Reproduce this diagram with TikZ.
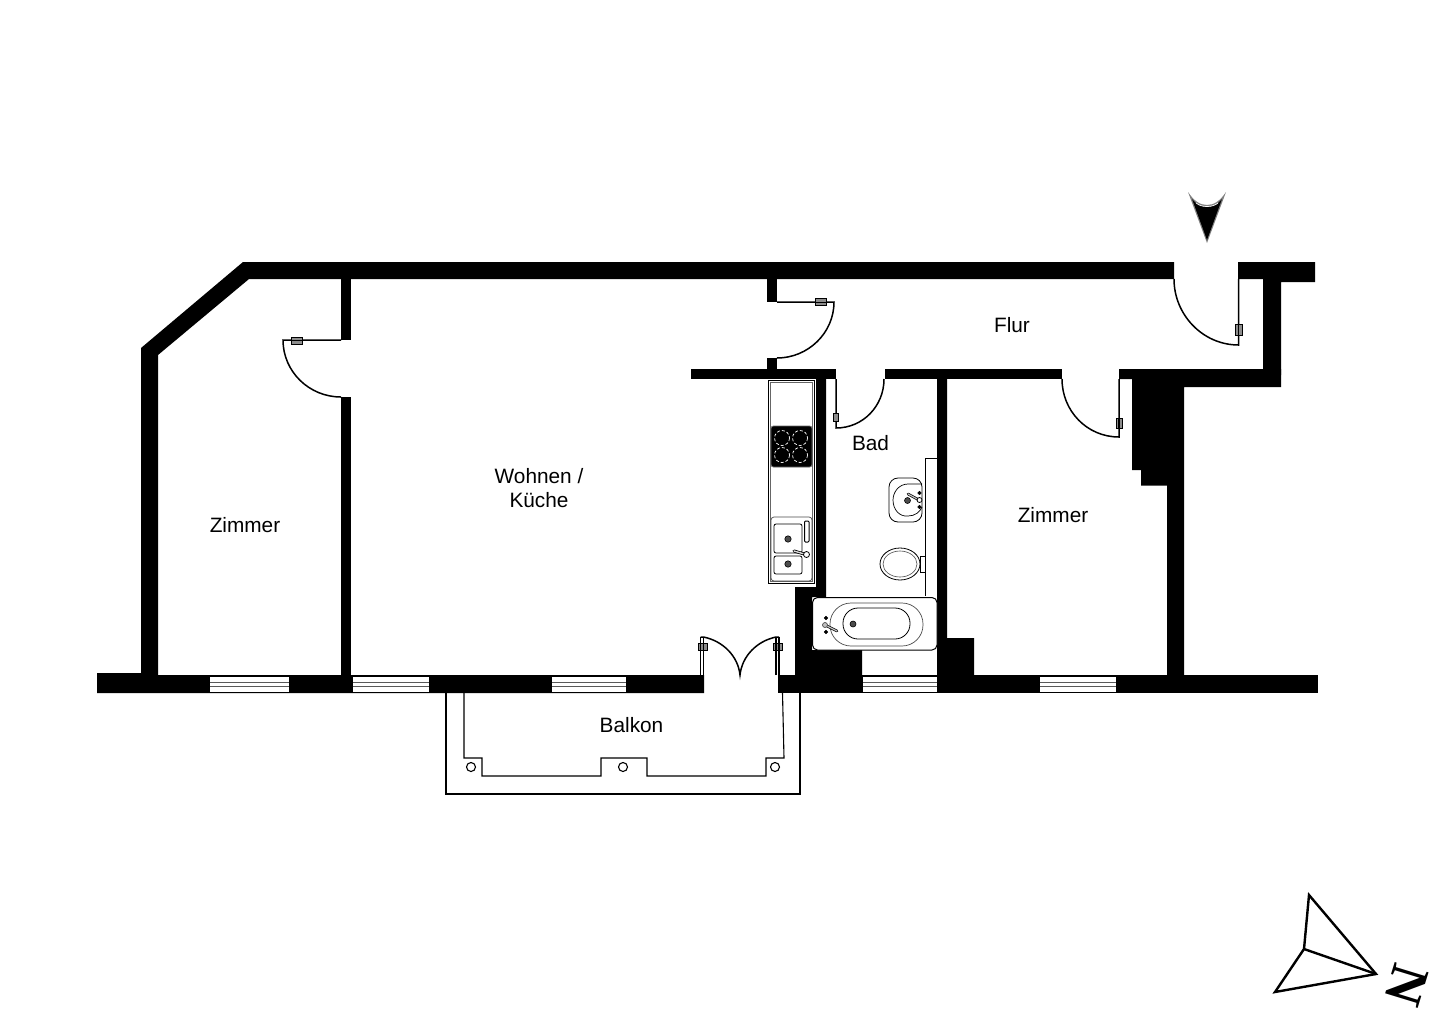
\documentclass[tikz,border=0pt]{standalone}
\usepackage{fontspec}
\setmainfont{Liberation Sans}
\newfontfamily\northfont{Liberation Serif}
\tikzset{
  wall/.style={fill=black,draw=none},
  thin line/.style={draw=black,line width=1.1pt},
  door/.style={draw=black,line width=1.5pt},
  hinge/.style={draw=black,fill=black!45,line width=0.8pt},
  fixture/.style={draw=black,fill=white,line width=0.8pt},
  label/.style={font=\fontsize{20.8}{24}\selectfont,inner sep=0pt,align=center},
  drainmark/.style={draw=black,fill=black!70,line width=0.6pt},
  northline/.style={draw=black,line width=2.4pt,line join=miter}
}
\newcommand{\planwindow}[2]{%
  \fill[white] (#1,675.5) rectangle (#2,692.5);
  \draw[black!65,line width=1pt] (#1,682) -- (#2,682) (#1,686.5) -- (#2,686.5);
  \draw[black,line width=0.7pt] (#1,676) -- (#2,676) (#1,692.5) -- (#2,692.5);
}
\begin{document}
\begin{tikzpicture}[x=1pt,y=-1pt]
\useasboundingbox (0,0) rectangle (1440,1018);
\fill[white] (0,0) rectangle (1440,1018);

% outer wall with bevel
\fill[wall] (243,262) -- (1174,262) -- (1174,279) -- (249,279) -- (158,355) -- (158,675)
  -- (141,675) -- (141,348) -- cycle;
% bottom wall, left part
\fill[wall] (97,673) -- (141,673) -- (158,675) -- (704,675) -- (704,693) -- (97,693) -- cycle;
% bottom wall, right part
\fill[wall] (778,675) -- (1318,675) -- (1318,693) -- (778,693) -- cycle;
% partition Zimmer / Wohnen
\fill[wall] (341,279) rectangle (351,340);
\fill[wall] (341,397) rectangle (351,675);
% stub Wohnen / Flur
\fill[wall] (767,279) rectangle (777,302);
\fill[wall] (767,358) rectangle (777,369);
% corridor wall
\fill[wall] (691,369) rectangle (836,379);
\fill[wall] (885,369) rectangle (1062,379);
\fill[wall] (1119,369) -- (1281,369) -- (1281,387) -- (1184,387) -- (1184,675) -- (1167,675)
  -- (1167,485.5) -- (1141,485.5) -- (1141,470) -- (1132,470) -- (1132,379) -- (1119,379) -- cycle;
% top right corner
\fill[wall] (1238,262) -- (1315,262) -- (1315,282) -- (1281,282) -- (1281,375) -- (1263,375)
  -- (1263,279) -- (1238,279) -- cycle;
% kitchen / bath wall
\fill[wall] (816,370) -- (826,370) -- (826,597) -- (812,597) -- (812,650) -- (862,650) -- (862,677)
  -- (795,677) -- (795,587) -- (816,587) -- cycle;
% bath / Zimmer wall
\fill[wall] (937,370) -- (947,370) -- (947,638) -- (974,638) -- (974,677) -- (937,677) -- cycle;
\fill[wall] (862,675) rectangle (937,677);

% windows
\planwindow{210}{289}
\planwindow{353}{429}
\planwindow{552}{626}
\planwindow{863}{937}
\planwindow{1040}{1116}

% doors
\draw[door] (341,340) -- (283,340) .. controls (283,371.5) and (309,397) .. (341,397);
\draw[hinge] (291,337) rectangle (302,344);
\draw[black,line width=0.8pt] (291,340.5) -- (302,340.5);

\draw[door] (777,302) -- (834,302) .. controls (834,333) and (808,358) .. (777,358);
\draw[hinge] (815,298.5) rectangle (826,305.5);
\draw[black,line width=0.8pt] (815,302) -- (826,302);

\draw[door] (836,379) -- (836,428) .. controls (863,428) and (884,406) .. (884,379);
\draw[hinge] (833.5,413) rectangle (838.5,421);

\draw[door] (1238.5,279) -- (1238.5,345) .. controls (1203,345) and (1174,315) .. (1174,279);
\draw[hinge] (1235,324) rectangle (1242,335);
\draw[door] (1238.5,324) -- (1238.5,335);

\draw[door] (1119,379) -- (1119,437) .. controls (1087,437) and (1062,411) .. (1062,379);
\draw[hinge] (1116,418) rectangle (1122,428);
\draw[door] (1119,418) -- (1119,428);

% balcony doors
\draw[thin line] (700.5,675) -- (700.5,637) (703.5,675) -- (703.5,637);
\draw[thin line] (776,675) -- (776,637) (779,675) -- (779,637);
\draw[door] (700.5,637) -- (703.5,637) .. controls (723,641) and (738,656) .. (740,675)
  .. controls (742,656) and (757,641) .. (776,637) -- (779,637);
\draw[hinge] (698,643) rectangle (707,650);
\draw[thin line] (700.5,643) -- (700.5,650) (703.5,643) -- (703.5,650);
\draw[hinge] (773,643) rectangle (782,650);
\draw[thin line] (776,643) -- (776,650) (779,643) -- (779,650);

% balcony
\draw[thin line] (446,693) -- (446,794) -- (800,794) -- (800,693);
\draw[thin line] (464,693) -- (464,758) -- (482,758) -- (482,776) -- (601,776) -- (601,758)
  -- (647,758) -- (647,776) -- (766,776) -- (766,758) -- (784,758) -- (782.5,693);
\draw[thin line] (471,767) circle (4.5);
\draw[thin line] (623,767) circle (4.5);
\draw[thin line] (775,767) circle (4.5);

% kitchen counter
\draw[black,line width=0.9pt,fill=white] (768,380) rectangle (814,583);
\draw[black!60,line width=0.6pt] (770,382) rectangle (812,581);
\draw[black!60,fill=black,line width=0.8pt,rounded corners=2.5pt] (771,426) rectangle (812,467);
\foreach \cx/\cy in {782/438,800/438,782/455,800/455}
  \draw[white,line width=0.7pt,densely dashed] (\cx,\cy) circle (7.5);
\draw[black!70,line width=0.7pt,rounded corners=3pt] (771,517) rectangle (812,581);
\draw[fixture,rounded corners=2pt] (774,524) rectangle (802,553);
\draw[fixture,rounded corners=2pt] (774,556) rectangle (802,574);
\draw[drainmark] (788,539) circle (3.2);
\draw[drainmark] (788,564) circle (3.2);
\draw[fixture,rounded corners=1pt,line width=1pt] (804.5,521) rectangle (809,542);
\draw[black,line width=3pt,line cap=round] (794,551) -- (806,554.5);
\draw[black!15,line width=1.4pt,line cap=round] (794,551) -- (806,554.5);
\draw[fixture] (806.5,554.5) circle (3);

% bath wall panel
\draw[black,fill=white,line width=1pt] (925,596) -- (925,458) -- (937,458);
% wash basin
\draw[fixture,rounded corners=9pt] (889,478) rectangle (922,522);
\draw[black,line width=0.7pt] (922,484) -- (908,484) .. controls (899,484) and (893,492) .. (893,500)
  .. controls (893,509) and (899,517) .. (908,516) .. controls (915,516) and (920,512) .. (922,507);
\draw[drainmark] (907.5,500.5) circle (3);
\draw[fill=black] (919.5,493) circle (1.8);
\draw[fill=black] (919.5,507) circle (1.8);
\draw[black,line width=2.6pt,line cap=round] (908,494) -- (919,500);
\draw[black!25,line width=1.2pt,line cap=round] (908,494) -- (919,500);
\draw[fixture] (919.5,500) circle (2.5);
% toilet
\draw[fixture] (920,556) rectangle (925,572);
\draw[fixture] (900,564) ellipse (20 and 16);
\draw[black!70,line width=0.6pt] (900,564) ellipse (17 and 13);
% bath tub
\draw[fixture,line width=1pt,rounded corners=5pt] (812.5,597.5) rectangle (937,650);
\draw[black!70,line width=0.7pt,rounded corners=21pt] (830,603) rectangle (923,646);
\draw[black,line width=0.8pt,rounded corners=15pt] (843,608) rectangle (910,639);
\draw[drainmark] (853,624) circle (3);
\draw[fill=black] (826,618) circle (1.8);
\draw[fill=black] (826,632) circle (1.8);
\draw[black,line width=2.6pt,line cap=round] (825,625) -- (837,631);
\draw[black!25,line width=1.2pt,line cap=round] (825,625) -- (837,631);
\draw[black!70,fill=black!25,line width=0.7pt] (825,625) circle (2.5);

% entrance arrow
\fill[black!50] (1188,192) .. controls (1194,201) and (1200,205) .. (1207,205)
  .. controls (1214,205) and (1220,201) .. (1226,192) -- (1207,243) -- cycle;
\fill[black] (1192,199) .. controls (1196,204) and (1201,207) .. (1207,207)
  .. controls (1213,207) and (1218,204) .. (1222,199) -- (1207,240) -- cycle;
\draw[white,line width=0.7pt] (1196,203) .. controls (1199,205.5) and (1203,206.5) .. (1207,206.5)
  .. controls (1211,206.5) and (1215,205.5) .. (1218,203);

% labels
\node[label] (zimmerA) at (245,525) {Zimmer};
\node[label] (wohnen) at (539,488) {Wohnen /\\Küche};
\node[label] (bad) at (870.5,443) {Bad};
\node[label] (flur) at (1012,325) {Flur};
\node[label] (zimmerB) at (1053,515) {Zimmer};
\node[label] (balkon) at (631.5,725) {Balkon};

% north sign
\draw[northline] (1304,949) -- (1309,895) -- (1376,974) -- (1275,992) -- cycle;
\draw[northline] (1304,949) -- (1376,974);
\node[rotate=-107,inner sep=0pt,font=\northfont\bfseries\fontsize{54}{54}\selectfont] (north) at (1407,985) {N};
\end{tikzpicture}
\end{document}
